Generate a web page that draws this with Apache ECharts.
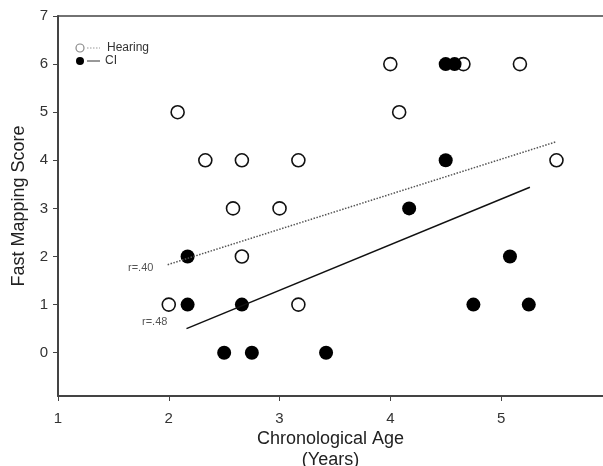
<!DOCTYPE html>
<html><head><meta charset="utf-8">
<script src="https://cdn.jsdelivr.net/npm/echarts@6/dist/echarts.min.js"></script>
<style>html,body{margin:0;padding:0;background:#fff}#c{width:603px;height:466px}</style>
</head><body><div id="c"></div>
<script>
const hearingAge   = [2.0, 2.08, 2.33, 2.66, 2.58, 3.0, 3.17, 2.66, 3.17, 4.0, 4.08, 4.66, 5.17, 5.5];
const hearingScore = [1,   5,    4,    4,    3,    3,   4,    2,    1,    6,   5,    6,    6,    4];
const ciAge   = [2.17, 2.17, 2.66, 2.5, 2.75, 3.42, 4.5, 4.58, 4.5, 4.17, 5.08, 4.75, 5.25];
const ciScore = [2,    1,    1,    0,   0,    0,    6,   6,    4,   3,    2,    1,    1];
const hearingFitX = [1.99, 5.49];
const hearingFitY = [1.83, 4.38];
const ciFitX = [2.16, 5.26];
const ciFitY = [0.50, 3.44];
const xTicks = [1, 2, 3, 4, 5];
const yTicks = [0, 1, 2, 3, 4, 5, 6, 7];

const zip = (a, b) => a.map((v, i) => [v, b[i]]);
const font = 'Liberation Sans, Arial, sans-serif';
const chart = echarts.init(document.getElementById('c'));
chart.setOption({
  animation: false,
  backgroundColor: '#fff',
  grid: {left: 58, top: 16, right: 0, bottom: 70, containLabel: false, outerBoundsMode: 'none'},
  xAxis: [{
    type: 'value', min: 1, max: 5.92,
    name: 'Chronological Age\n(Years)', nameLocation: 'middle', nameGap: 33, nameMoveOverlap: false,
    nameTextStyle: {fontFamily: font, fontSize: 18, color: '#222', lineHeight: 21},
    axisLine: {onZero: false, lineStyle: {color: '#444', width: 2}},
    axisTick: {show: true, length: 5, lineStyle: {color: '#444'}, customValues: xTicks},
    splitLine: {show: false},
    axisLabel: {fontFamily: font, fontSize: 15, color: '#333', margin: 15, customValues: xTicks}
  }, {
    type: 'value', min: 1, max: 5.92, position: 'top',
    axisLine: {show: true, onZero: false, lineStyle: {color: '#444', width: 1.5}},
    axisTick: {show: false}, axisLabel: {show: false}, splitLine: {show: false}
  }],
  yAxis: {
    type: 'value', min: -0.9, max: 7,
    name: 'Fast Mapping Score', nameLocation: 'middle', nameGap: 30,
    nameTextStyle: {fontFamily: font, fontSize: 18, color: '#222'},
    axisLine: {onZero: false, lineStyle: {color: '#444', width: 2}},
    axisTick: {show: true, length: 5, lineStyle: {color: '#444'}, customValues: yTicks},
    splitLine: {show: false},
    axisLabel: {fontFamily: font, fontSize: 15, color: '#333', margin: 10, customValues: yTicks}
  },
  series: [
    {type: 'line', data: zip(hearingFitX, hearingFitY), symbol: 'none',
     lineStyle: {type: 'dotted', color: '#555', width: 1.5}, silent: true},
    {type: 'line', data: zip(ciFitX, ciFitY), symbol: 'none',
     lineStyle: {type: 'solid', color: '#111', width: 1.5}, silent: true},
    {type: 'scatter', data: zip(hearingAge, hearingScore), symbol: 'circle', symbolSize: 13,
     itemStyle: {color: '#fff', borderColor: '#111', borderWidth: 1.6, opacity: 1}},
    {type: 'scatter', data: zip(ciAge, ciScore), symbol: 'circle', symbolSize: 14,
     itemStyle: {color: '#000', opacity: 1}}
  ],
  graphic: [
    {type: 'circle', shape: {cx: 80, cy: 48, r: 4}, style: {fill: '#fff', stroke: '#888', lineWidth: 1.2}},
    {type: 'line', shape: {x1: 87, y1: 48, x2: 100, y2: 48}, style: {stroke: '#999', lineWidth: 1, lineDash: [1.5, 1.5]}},
    {type: 'text', left: 107, top: 42, style: {text: 'Hearing', font: '12px ' + font, fill: '#333'}},
    {type: 'circle', shape: {cx: 80, cy: 61, r: 4}, style: {fill: '#000'}},
    {type: 'line', shape: {x1: 87, y1: 61, x2: 100, y2: 61}, style: {stroke: '#333', lineWidth: 1}},
    {type: 'text', left: 105, top: 55, style: {text: 'CI', font: '12px ' + font, fill: '#333'}},
    {type: 'text', left: 128, top: 262, style: {text: 'r=.40', font: '11px ' + font, fill: '#555'}},
    {type: 'text', left: 142, top: 316, style: {text: 'r=.48', font: '11px ' + font, fill: '#555'}}
  ]
});
</script></body></html>
